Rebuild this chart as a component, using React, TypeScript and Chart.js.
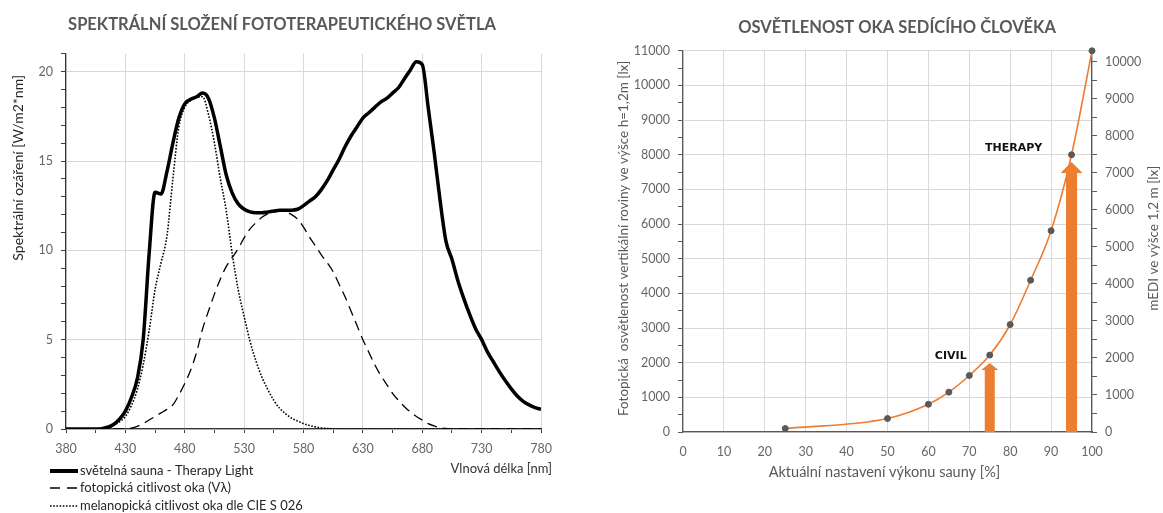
import React, { useEffect, useRef } from 'react';
import { Chart, registerables } from 'chart.js';

Chart.register(...registerables);

const FONT = 'Lato, "DejaVu Sans", sans-serif';
Chart.defaults.font.family = FONT;

// ---------- Left chart data ----------
const leftTitle = 'SPEKTRÁLNÍ SLOŽENÍ FOTOTERAPEUTICKÉHO SVĚTLA';
const leftYTitle = 'Spektrální ozáření [W/m2*nm]';
const leftXTitle = 'Vlnová délka [nm]';
const seriesNames = [
  'světelná sauna - Therapy Light',
  'fotopická citlivost oka (Vλ)',
  'melanopická citlivost oka dle CIE S 026',
];
const wavelengths = [
  380, 385, 390, 395, 400, 405, 410, 415, 420, 425, 430, 435, 440, 445, 450, 455, 460, 465, 470, 475,
  480, 485, 490, 495, 500, 505, 510, 515, 520, 525, 530, 535, 540, 545, 550, 555, 560, 565, 570, 575,
  580, 585, 590, 595, 600, 605, 610, 615, 620, 625, 630, 635, 640, 645, 650, 655, 660, 665, 670, 675,
  680, 685, 690, 695, 700, 705, 710, 715, 720, 725, 730, 735, 740, 745, 750, 755, 760, 765, 770, 775, 780,
];
const therapyLight = [
  0, 0, 0, 0, 0, 0, 0.02, 0.1, 0.25, 0.55, 1.0, 1.75, 2.8, 5.0, 9.8, 13.25, 13.15, 14.4, 16.0, 17.4,
  18.2, 18.45, 18.6, 18.8, 18.5, 17.4, 15.8, 14.2, 13.2, 12.6, 12.3, 12.15, 12.1, 12.1, 12.15, 12.2, 12.25, 12.25, 12.25, 12.3,
  12.5, 12.75, 13.0, 13.4, 13.9, 14.5, 15.1, 15.8, 16.4, 16.9, 17.4, 17.7, 18.0, 18.3, 18.5, 18.8, 19.1, 19.6, 20.1, 20.55,
  20.4, 18.0, 15.5, 12.8, 10.5, 9.5, 8.3, 7.3, 6.4, 5.6, 5.0, 4.3, 3.75, 3.2, 2.7, 2.25, 1.85, 1.55, 1.35, 1.2, 1.1,
];
const photopic = [
  0, 0, 0, 0, 0, 0, 0, 0, 0, 0, 0, 0.05, 0.15, 0.3, 0.5, 0.7, 0.9, 1.1, 1.35, 1.9,
  2.55, 3.3, 4.3, 5.6, 6.6, 7.55, 8.4, 9.1, 9.6, 10.1, 10.7, 11.2, 11.55, 11.85, 12.05, 12.15, 12.2, 12.15, 12.0, 11.75,
  11.3, 10.75, 10.25, 9.75, 9.3, 8.8, 8.1, 7.4, 6.6, 5.8, 5.0, 4.3, 3.6, 3.0, 2.5, 2.0, 1.6, 1.25, 0.95, 0.7,
  0.5, 0.3, 0.17, 0.08, 0.03, 0, 0, 0, 0, 0, 0, 0, 0, 0, 0, 0, 0, 0, 0, 0, 0,
];
const melanopic = [
  0, 0, 0, 0, 0, 0, 0, 0.05, 0.2, 0.4, 0.7, 1.3, 2.2, 3.6, 5.5, 7.8, 9.3, 10.8, 14.0, 16.9,
  18.0, 18.4, 18.55, 18.6, 17.6, 16.0, 14.0, 12.2, 9.8, 7.8, 6.3, 4.9, 3.8, 2.9, 2.2, 1.6, 1.15, 0.85, 0.6, 0.45,
  0.3, 0.2, 0.12, 0.06, 0.03, 0.01, 0, 0, 0, 0, 0, 0, 0, 0, 0, 0, 0, 0, 0, 0,
  0, 0, 0, 0, 0, 0, 0, 0, 0, 0, 0, 0, 0, 0, 0, 0, 0, 0, 0, 0, 0,
];

// ---------- Right chart data ----------
const rightTitle = 'OSVĚTLENOST OKA SEDÍCÍHO ČLOVĚKA';
const rightYTitle = 'Fotopická  osvětlenost vertikální roviny ve výšce h=1,2m [lx]';
const rightY2Title = 'mEDI ve výšce 1,2 m [lx]';
const rightXTitle = 'Aktuální nastavení výkonu sauny [%]';
const powerLevels = [25, 50, 60, 65, 70, 75, 80, 85, 90, 95, 100];
const illuminance = [100, 390, 800, 1150, 1630, 2220, 3100, 4380, 5810, 8000, 11000];
const mediMax = 10300;
const mediTickMax = 10000;
const arrowLabels = ['CIVIL', 'THERAPY'];
const arrowLevels = [75, 95];
const arrowTips = [1990, 7790];

const TICK_COLOR = '#666666';
const GRID = '#d9d9d9';
const TICK_FONT = 12.5;

const leftDecor = {
  id: 'leftDecor',
  afterDraw(chart: any) {
    const ctx = chart.ctx as CanvasRenderingContext2D;
    const a = chart.chartArea;
    ctx.save();
    // y axis title
    ctx.save();
    ctx.translate(18, a.top + 114);
    ctx.rotate(-Math.PI / 2);
    ctx.font = '14px ' + FONT;
    ctx.fillStyle = '#262626';
    ctx.textAlign = 'center';
    ctx.textBaseline = 'middle';
    ctx.fillText(leftYTitle, 0, 0);
    ctx.restore();
    // x axis title
    ctx.font = '13px ' + FONT;
    ctx.fillStyle = '#333333';
    ctx.textAlign = 'right';
    ctx.textBaseline = 'middle';
    ctx.fillText(leftXTitle, a.right + 11, a.bottom + 40);
    // legend
    const rows = [a.bottom + 42, a.bottom + 59, a.bottom + 77];
    chart.data.datasets.forEach((ds: any, i: number) => {
      const y = rows[i];
      ctx.save();
      ctx.strokeStyle = ds.borderColor;
      ctx.lineWidth = ds.legendWidth || ds.borderWidth;
      ctx.setLineDash(ds.legendDash || []);
      ctx.beginPath();
      ctx.moveTo(50, y);
      ctx.lineTo(78, y);
      ctx.stroke();
      ctx.restore();
      ctx.font = '13px ' + FONT;
      ctx.fillStyle = '#262626';
      ctx.textAlign = 'left';
      ctx.textBaseline = 'middle';
      ctx.fillText(ds.label, 80, y);
    });
    ctx.restore();
  },
};

const rightDecor = {
  id: 'rightDecor',
  beforeDatasetsDraw(chart: any) {
    const ctx = chart.ctx as CanvasRenderingContext2D;
    const xs = chart.scales.x;
    const ys = chart.scales.y;
    const shaft = [10, 11];
    const headW = [17, 22];
    const headH = [7, 11];
    ctx.save();
    ctx.fillStyle = '#ED7D31';
    arrowLevels.forEach((lv, i) => {
      const x = xs.getPixelForValue(lv);
      const yTip = ys.getPixelForValue(arrowTips[i]);
      const yBase = ys.getPixelForValue(0);
      ctx.beginPath();
      ctx.moveTo(x - shaft[i] / 2, yBase);
      ctx.lineTo(x - shaft[i] / 2, yTip + headH[i]);
      ctx.lineTo(x - headW[i] / 2, yTip + headH[i]);
      ctx.lineTo(x, yTip);
      ctx.lineTo(x + headW[i] / 2, yTip + headH[i]);
      ctx.lineTo(x + shaft[i] / 2, yTip + headH[i]);
      ctx.lineTo(x + shaft[i] / 2, yBase);
      ctx.closePath();
      ctx.fill();
    });
    ctx.restore();
  },
  afterDraw(chart: any) {
    const ctx = chart.ctx as CanvasRenderingContext2D;
    const a = chart.chartArea;
    const xs = chart.scales.x;
    const ys = chart.scales.y;
    ctx.save();
    // arrow labels
    const offs = [[-39, -7], [-58, -14]];
    ctx.font = 'bold 11px "DejaVu Sans", sans-serif';
    ctx.fillStyle = '#111111';
    ctx.textAlign = 'center';
    ctx.textBaseline = 'middle';
    arrowLabels.forEach((t, i) => {
      const x = xs.getPixelForValue(arrowLevels[i]) + offs[i][0];
      const y = ys.getPixelForValue(arrowTips[i]) + offs[i][1];
      ctx.fillText(t, x, y);
    });
    // axis titles
    const cy = (a.top + a.bottom) / 2 - 3;
    ctx.font = '13.5px ' + FONT;
    ctx.fillStyle = '#595959';
    ctx.save();
    ctx.translate(a.left - 59, cy);
    ctx.rotate(-Math.PI / 2);
    ctx.fillText(rightYTitle, 0, 0);
    ctx.restore();
    ctx.save();
    ctx.translate(a.right + 62, cy);
    ctx.rotate(-Math.PI / 2);
    ctx.fillText(rightY2Title, 0, 0);
    ctx.restore();
    ctx.font = '14.5px ' + FONT;
    ctx.fillText(rightXTitle, (a.left + a.right) / 2 - 3, a.bottom + 40);
    ctx.restore();
  },
};

function LeftChart() {
  const ref = useRef<HTMLCanvasElement>(null);
  useEffect(() => {
    if (!ref.current) return;
    const mk = (vals: number[]) => wavelengths.map((x, i) => ({ x, y: vals[i] }));
    const chart = new Chart(ref.current, {
      type: 'line',
      data: {
        datasets: [
          { label: seriesNames[0], data: mk(therapyLight), borderColor: '#000000', borderWidth: 3.5, legendWidth: 4, pointRadius: 0, cubicInterpolationMode: 'monotone', fill: false } as any,
          { label: seriesNames[1], data: mk(photopic), borderColor: '#000000', borderWidth: 1.3, borderDash: [10, 6], legendDash: [10, 7], pointRadius: 0, cubicInterpolationMode: 'monotone', fill: false } as any,
          { label: seriesNames[2], data: mk(melanopic), borderColor: '#000000', borderWidth: 1.6, borderDash: [1.6, 1.6], legendDash: [1.6, 1.6], pointRadius: 0, cubicInterpolationMode: 'monotone', fill: false } as any,
        ],
      },
      options: {
        animation: false,
        responsive: false,
        devicePixelRatio: 1,
        layout: { padding: { left: 23, right: 44, top: 0, bottom: 0 } },
        plugins: {
          legend: { display: false },
          tooltip: { enabled: false },
          title: {
            display: true,
            text: leftTitle,
            color: '#595959',
            font: { size: 16.5, weight: 'bold', family: FONT },
            padding: { top: 15, bottom: 19 },
          },
        },
        scales: {
          x: {
            type: 'linear',
            min: 380,
            max: 780,
            ticks: {
              stepSize: 25,
              autoSkip: false,
              maxRotation: 0,
              color: TICK_COLOR,
              font: { size: TICK_FONT },
              padding: 8,
              callback: (v: any) => ((Number(v) - 380) % 50 === 0 ? String(v) : ''),
            },
            grid: {
              color: (c: any) => (c.tick && (c.tick.value - 380) % 50 === 0 ? GRID : 'rgba(0,0,0,0)'),
              tickColor: '#404040',
              tickLength: 4,
            },
            border: { color: '#333333', width: 1.2 },
            afterFit: (s: any) => { s.height = 84; },
          } as any,
          y: {
            min: 0,
            max: 21,
            ticks: {
              stepSize: 1,
              autoSkip: false,
              color: TICK_COLOR,
              font: { size: TICK_FONT },
              padding: 8,
              callback: (v: any) => (Number(v) % 5 === 0 ? String(v) : ''),
            },
            grid: {
              color: (c: any) => (c.tick && c.tick.value % 5 === 0 ? GRID : 'rgba(0,0,0,0)'),
              tickColor: '#404040',
              tickLength: 5,
            },
            border: { color: '#333333', width: 1.2 },
            afterFit: (s: any) => { s.width = 43; },
          } as any,
        },
      },
      plugins: [leftDecor],
    });
    return () => chart.destroy();
  }, []);
  return <canvas ref={ref} width={585} height={513} style={{ position: 'absolute', left: 0, top: 0, width: 585, height: 513 }} />;
}

function RightChart() {
  const ref = useRef<HTMLCanvasElement>(null);
  useEffect(() => {
    if (!ref.current) return;
    const chart = new Chart(ref.current, {
      type: 'line',
      data: {
        datasets: [
          {
            label: 'Fotopická osvětlenost',
            data: powerLevels.map((x, i) => ({ x, y: illuminance[i] })),
            borderColor: '#ED7D31',
            borderWidth: 1.6,
            pointRadius: 3,
            pointBackgroundColor: '#595959',
            pointBorderColor: '#595959',
            pointBorderWidth: 1,
            cubicInterpolationMode: 'monotone',
            fill: false,
            clip: 8,
            yAxisID: 'y',
          } as any,
        ],
      },
      options: {
        animation: false,
        responsive: false,
        devicePixelRatio: 1,
        layout: { padding: { left: 46, right: 0, top: 0, bottom: 0 } },
        plugins: {
          legend: { display: false },
          tooltip: { enabled: false },
          title: {
            display: true,
            text: rightTitle,
            color: '#595959',
            font: { size: 16.5, weight: 'bold', family: FONT },
            padding: { top: 18, bottom: 13 },
          },
        },
        scales: {
          x: {
            type: 'linear',
            min: 0,
            max: 100,
            ticks: { stepSize: 10, autoSkip: false, maxRotation: 0, color: TICK_COLOR, font: { size: TICK_FONT }, padding: 12 },
            grid: { color: GRID, drawTicks: false },
            border: { color: '#595959', width: 1.2 },
            afterFit: (s: any) => { s.height = 81; },
          } as any,
          y: {
            position: 'left',
            min: 0,
            max: 11000,
            ticks: {
              stepSize: 500,
              autoSkip: false,
              color: TICK_COLOR,
              font: { size: TICK_FONT },
              padding: 8,
              callback: (v: any) => (Number(v) % 1000 === 0 ? String(v) : ''),
            },
            grid: {
              color: (c: any) => (c.tick && c.tick.value % 1000 === 0 ? GRID : 'rgba(0,0,0,0)'),
              tickColor: '#595959',
              tickLength: 5,
            },
            border: { color: '#595959', width: 1.2 },
            afterFit: (s: any) => { s.width = 52; },
          } as any,
          y2: {
            position: 'right',
            min: 0,
            max: mediMax,
            ticks: {
              autoSkip: false,
              color: TICK_COLOR,
              font: { size: TICK_FONT },
              padding: 8,
              callback: (v: any) => (Number(v) % 1000 === 0 ? String(v) : ''),
            },
            afterBuildTicks: (s: any) => {
              const t: any[] = [];
              for (let v = 0; v <= mediTickMax; v += 500) t.push({ value: v });
              s.ticks = t;
            },
            grid: { drawOnChartArea: false, tickColor: '#595959', tickLength: 5 },
            border: { color: '#595959', width: 1.2 },
            afterFit: (s: any) => { s.width = 71; },
          } as any,
        },
      },
      plugins: [rightDecor],
    });
    return () => chart.destroy();
  }, []);
  return <canvas ref={ref} width={578} height={513} style={{ position: 'absolute', left: 585, top: 0, width: 578, height: 513 }} />;
}

export default function App() {
  return (
    <div style={{ position: 'absolute', left: 0, top: 0, width: 1163, height: 513, background: '#ffffff', overflow: 'hidden' }}>
      <LeftChart />
      <RightChart />
    </div>
  );
}
